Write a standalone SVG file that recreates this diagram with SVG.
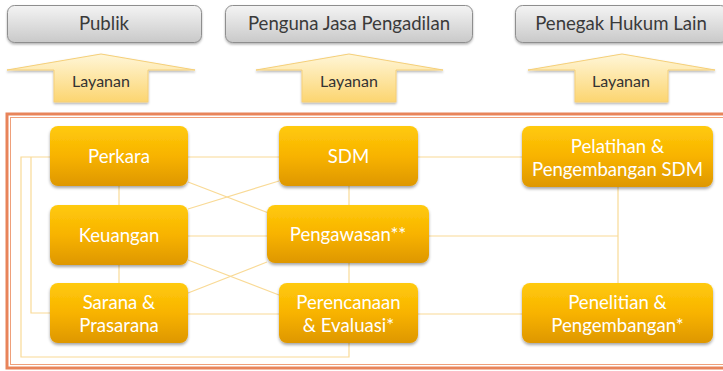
<svg xmlns="http://www.w3.org/2000/svg" width="723" height="371" viewBox="0 0 723 371">
<defs>
<linearGradient id="gOr" x1="0" y1="0" x2="0" y2="1">
<stop offset="0" stop-color="#FFCA0C"/>
<stop offset="0.5" stop-color="#F8B300"/>
<stop offset="1" stop-color="#DE9700"/>
</linearGradient>
<linearGradient id="gGr" x1="0" y1="0" x2="0" y2="1">
<stop offset="0" stop-color="#F4F4F4"/>
<stop offset="1" stop-color="#C9C9C9"/>
</linearGradient>
<linearGradient id="gAr" x1="0" y1="0" x2="0" y2="1">
<stop offset="0" stop-color="#FFF6D8"/>
<stop offset="1" stop-color="#FCD570"/>
</linearGradient>
<filter id="sh" x="-10%" y="-10%" width="120%" height="130%">
<feDropShadow dx="0" dy="2" stdDeviation="1.5" flood-color="#000" flood-opacity="0.35"/>
</filter>
<filter id="shl" x="-10%" y="-10%" width="120%" height="130%">
<feDropShadow dx="0" dy="1.5" stdDeviation="1.2" flood-color="#000" flood-opacity="0.3"/>
</filter>
</defs>
<style>
.hdr{fill:url(#gGr);stroke:#8E8E8E;stroke-width:1;filter:url(#shl)}
.ht{font-family:Lato,"Liberation Sans",sans-serif;font-size:18.6px;fill:#3A3A3A;text-anchor:middle}
.arr{fill:url(#gAr);stroke:#F5CF78;stroke-width:1;filter:url(#shl)}
.lt{font-family:Lato,"Liberation Sans",sans-serif;font-size:16px;fill:#333;text-anchor:middle}
.nd{fill:url(#gOr);filter:url(#sh)}
.nt{font-family:Lato,"Liberation Sans",sans-serif;font-size:18.6px;fill:#FFFFFF;text-anchor:middle}
.cn{fill:none;stroke:#F9DA96;stroke-width:1.2}
</style>
<rect width="723" height="371" fill="#FFFFFF"/>

<g id="publik">
<rect class="hdr" x="7.5" y="5.5" width="194" height="37" rx="7"/>
<text class="ht" x="104" y="30">Publik</text>
</g>
<g id="pengguna">
<rect class="hdr" x="225.5" y="5.5" width="247" height="37" rx="7"/>
<text class="ht" x="349" y="30">Penguna Jasa Pengadilan</text>
</g>
<g id="penegak">
<rect class="hdr" x="515.5" y="5.5" width="212" height="37" rx="7"/>
<text class="ht" x="621" y="30">Penegak Hukum Lain</text>
</g>

<g id="layanan1">
<path class="arr" d="M101,54 L195,70 H148 V102 H54 V70 H7 Z"/>
<text class="lt" x="101" y="87">Layanan</text>
</g>
<g id="layanan2">
<path class="arr" d="M349,54 L443,70 H396 V102 H302 V70 H256 Z"/>
<text class="lt" x="349" y="87">Layanan</text>
</g>
<g id="layanan3">
<path class="arr" d="M622,54 L715,70 H668 V102 H575 V70 H528 Z"/>
<text class="lt" x="621" y="87">Layanan</text>
</g>

<g id="frame">
<rect x="7" y="114" width="730" height="254" fill="none" stroke="#E8845A" stroke-width="3"/>
<rect x="10.5" y="117.5" width="730" height="247" fill="none" stroke="#EFA07A" stroke-width="1"/>
</g>

<g id="connectors">
<path class="cn" d="M188,157 H279"/>
<path class="cn" d="M119,186 V205"/>
<path class="cn" d="M188,182 L279,217"/>
<path class="cn" d="M279,181 L188,209"/>
<path class="cn" d="M349,186 V205"/>
<path class="cn" d="M418,157 H522"/>
<path class="cn" d="M618,187 V283"/>
<path class="cn" d="M429,236 H618"/>
<path class="cn" d="M188,236 H267"/>
<path class="cn" d="M188,260 L279,295"/>
<path class="cn" d="M188,293 L267,262"/>
<path class="cn" d="M349,263 V283"/>
<path class="cn" d="M119,265 V283"/>
<path class="cn" d="M188,314 H279"/>
<path class="cn" d="M418,314 H522"/>
<path class="cn" d="M50,157 H21 V357 H349 V343"/>
<path class="cn" d="M31,157 V313 H50"/>
</g>

<g id="perkara">
<rect class="nd" x="50" y="126" width="138" height="60" rx="8"/>
<text class="nt" x="119" y="163">Perkara</text>
</g>
<g id="sdm">
<rect class="nd" x="279" y="126" width="139" height="60" rx="8"/>
<text class="nt" x="348.5" y="163">SDM</text>
</g>
<g id="pelatihan">
<rect class="nd" x="522" y="126" width="191" height="61" rx="8"/>
<text class="nt" x="617.5" y="153">Pelatihan &amp;</text>
<text class="nt" x="617.5" y="176">Pengembangan SDM</text>
</g>
<g id="keuangan">
<rect class="nd" x="50" y="205" width="138" height="60" rx="8"/>
<text class="nt" x="119" y="242">Keuangan</text>
</g>
<g id="pengawasan">
<rect class="nd" x="267" y="205" width="162" height="58" rx="8"/>
<text class="nt" x="348" y="241">Pengawasan**</text>
</g>
<g id="sarana">
<rect class="nd" x="50" y="283" width="138" height="60" rx="8"/>
<text class="nt" x="119" y="309">Sarana &amp;</text>
<text class="nt" x="119" y="332">Prasarana</text>
</g>
<g id="perencanaan">
<rect class="nd" x="279" y="283" width="139" height="60" rx="8"/>
<text class="nt" x="348.5" y="309">Perencanaan</text>
<text class="nt" x="348.5" y="332">&amp; Evaluasi*</text>
</g>
<g id="penelitian">
<rect class="nd" x="522" y="283" width="191" height="60" rx="8"/>
<text class="nt" x="617.5" y="309">Penelitian &amp;</text>
<text class="nt" x="617.5" y="332">Pengembangan*</text>
</g>
</svg>
